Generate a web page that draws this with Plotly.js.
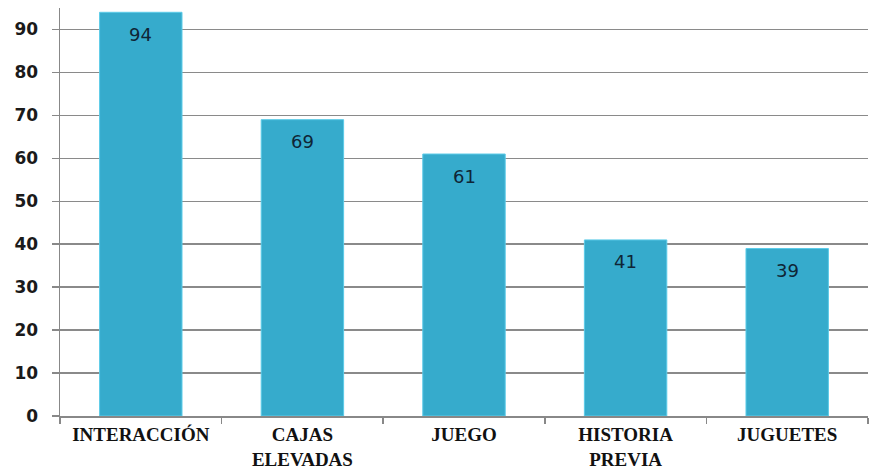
<!DOCTYPE html>
<html>
<head>
<meta charset="utf-8">
<script src="https://cdn.plot.ly/plotly-3.0.1.min.js"></script>
<style>html,body{margin:0;padding:0;background:#fff;}#chart{width:869px;height:471px;}</style>
</head>
<body>
<div id="chart"></div>
<script>
const categories = ["INTERACCIÓN", "CAJAS<br>ELEVADAS", "JUEGO", "HISTORIA<br>PREVIA", "JUGUETES"];
const values = [94, 69, 61, 41, 39];
const yTicks = [0, 10, 20, 30, 40, 50, 60, 70, 80, 90];

const trace = {
  type: "bar",
  x: categories,
  y: values,
  marker: {color: "#36abcc", line: {color: "#5ccbe8", width: 1}},
  hoverinfo: "none"
};

const annotations = categories.map((c, i) => ({
  x: c, y: values[i], xref: "x", yref: "y",
  text: String(values[i]),
  showarrow: false,
  yanchor: "middle",
  yshift: -22,
  font: {family: "DejaVu Sans, Verdana, sans-serif", size: 18, color: "#0f2536"}
}));

const layout = {
  width: 869, height: 471,
  margin: {l: 60, r: 1, t: 8, b: 55},
  paper_bgcolor: "#ffffff",
  plot_bgcolor: "#ffffff",
  bargap: 0.49,
  showlegend: false,
  annotations: annotations,
  xaxis: {
    type: "category",
    tickson: "boundaries",
    ticks: "outside",
    ticklen: 6,
    tickcolor: "#888",
    tickwidth: 1.5,
    showline: true,
    linecolor: "#888",
    linewidth: 1.5,
    showgrid: false,
    ticklabelstandoff: 1,
    tickfont: {family: "Liberation Serif, DejaVu Serif, serif", size: 19, color: "#111", weight: "bold"},
    fixedrange: true
  },
  yaxis: {
    range: [0, 95],
    tickvals: yTicks,
    ticktext: yTicks.map(String),
    ticks: "outside",
    ticklen: 7,
    tickcolor: "#888",
    tickwidth: 1.5,
    showline: true,
    linecolor: "#888",
    linewidth: 1.5,
    showgrid: true,
    gridcolor: "#8a8a8a",
    gridwidth: 1.5,
    zeroline: false,
    ticklabelstandoff: 10,
    tickfont: {family: "DejaVu Sans, Verdana, sans-serif", size: 17, color: "#1a1a1a", weight: "bold"},
    fixedrange: true
  }
};

Plotly.newPlot("chart", [trace], layout, {displayModeBar: false, staticPlot: true});
</script>
</body>
</html>
